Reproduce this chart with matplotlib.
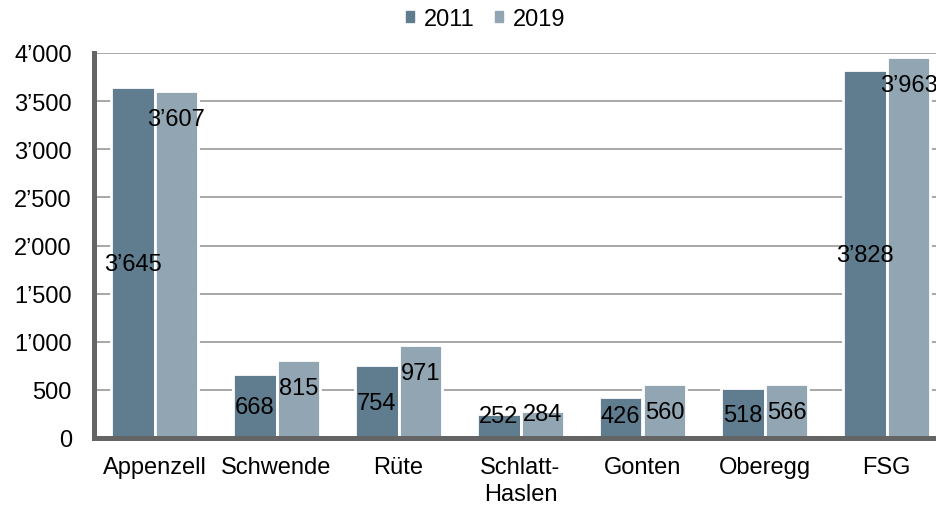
import matplotlib
matplotlib.use('Agg')
import numpy as np
import matplotlib.pyplot as plt
import matplotlib.patches as mpatches
from matplotlib.ticker import FuncFormatter, MultipleLocator

# ── data ──────────────────────────────────────────────────────────────────────

categories = ['Appenzell', 'Schwende', 'Rüte', 'Schlatt-\nHaslen',
              'Gonten', 'Oberegg', 'FSG']
values_2011 = [3645, 668, 754, 252, 426, 518, 3828]
values_2019 = [3607, 815, 971, 284, 560, 566, 3963]
series_names = ['2011', '2019']

# ── style ─────────────────────────────────────────────────────────────────────

COL_2011 = '#5f7d8f'
COL_2019 = '#91a6b2'
GRID_COL = '#a0a0a0'
SPINE_COL = '#646464'
FONT = 'Liberation Sans'
FS = 17

BAR_W = 0.36
OFFSET = 0.18
LABEL_FLOOR = 245   # labels never sit lower than this (data units)
END_INSET = 295     # inside-end label distance below bar top


def sep(v, pos=None):
    return f'{v:,.0f}'.replace(',', '\u2019')


plt.rcParams['font.family'] = [FONT, 'DejaVu Sans']

fig = plt.figure(figsize=(9.36, 5.06), dpi=100)
ax = fig.add_axes([93.5 / 936, 67 / 506, 854 / 936, 385 / 506])

x = np.arange(len(categories))
ax.bar(x - OFFSET, values_2011, BAR_W, color=COL_2011,
       edgecolor='white', linewidth=2, zorder=2)
ax.bar(x + OFFSET, values_2019, BAR_W, color=COL_2019,
       edgecolor='white', linewidth=2, zorder=2)

# value labels: 2011 centred in the bar, 2019 just inside the bar end
for xi, v in zip(x - OFFSET, values_2011):
    ax.text(xi, max(v / 2, LABEL_FLOOR) - 15, sep(v), ha='center', va='center',
            fontsize=FS, color='black', zorder=3)
for xi, v in zip(x + OFFSET, values_2019):
    ax.text(xi, max(v - END_INSET, LABEL_FLOOR), sep(v), ha='center',
            va='center', fontsize=FS, color='black', zorder=3, clip_on=False)

ax.set_xlim(-0.5, len(categories) - 0.5)
ax.set_ylim(0, 4000)
ax.yaxis.set_major_locator(MultipleLocator(500))
ax.yaxis.set_major_formatter(FuncFormatter(sep))
ax.set_xticks(x)
ax.set_xticklabels(categories, fontsize=FS)
for lbl in ax.get_xticklabels():
    lbl.set_linespacing(1.3)
ax.tick_params(axis='y', length=0, pad=15.5, labelsize=FS)
ax.tick_params(axis='x', length=0, pad=13)

ax.grid(axis='y', color=GRID_COL, linewidth=1.3, zorder=0)
ax.set_axisbelow(True)

for side in ['top', 'right']:
    ax.spines[side].set_visible(False)
for side in ['left', 'bottom']:
    ax.spines[side].set_color(SPINE_COL)
    ax.spines[side].set_linewidth(3.6)
    ax.spines[side].set_zorder(4)

handles = [mpatches.Patch(color=COL_2011, label=series_names[0]),
           mpatches.Patch(color=COL_2019, label=series_names[1])]
fig.legend(handles=handles, loc='center', bbox_to_anchor=(485.5 / 936, 1 - 20 / 506),
           ncol=2, frameon=False, fontsize=FS, handlelength=0.35,
           handleheight=0.35, handletextpad=0.42, columnspacing=0.85,
           borderaxespad=0, borderpad=0)

fig.savefig('out.png', dpi=100)
